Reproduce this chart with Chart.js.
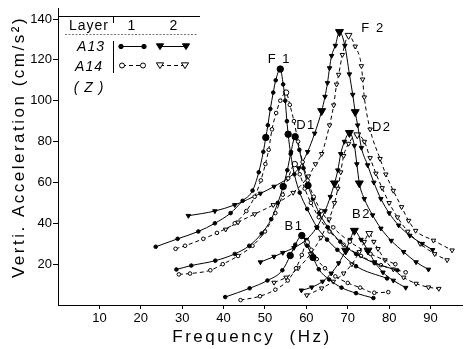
<!DOCTYPE html>
<html>
<head>
<meta charset="utf-8">
<script src="https://cdn.jsdelivr.net/npm/chart.js@4/dist/chart.umd.min.js"></script>
<style>
  html, body { margin: 0; padding: 0; background: #fff; }
  #wrap { width: 467px; height: 349px; }
</style>
</head>
<body>
<div id="wrap"><canvas id="chart"></canvas></div>
<script>
// tick values
const xTicks = [10, 20, 30, 40, 50, 60, 70, 80, 90];
const yTicks = [20, 40, 60, 80, 100, 120, 140];

// Layer 1 (circles): A13 solid, A14 dashed  -- [frequency Hz, acceleration cm/s2]
const f1A13 = [[23.6,28.5],[28.9,32.4],[33.9,36],[37.9,40],[41.7,45],[44.6,51],[47,56],[48.5,65],[49.6,75],[50.2,82],[50.7,88],[51.3,96],[52,104],[52.6,110],[53.7,115.5],[54.4,108],[54.9,100],[55.3,90],[55.6,83.6],[56.2,74],[57.1,64],[58.4,55],[60.2,47],[62.6,38],[65,32],[67.5,27],[72,19],[79.5,13]];
const f1A14 = [[28.4,27.5],[30.7,29],[35.1,32.4],[38.4,35.3],[42.7,40],[45.5,46],[47.5,53],[49,61],[50.1,69],[50.9,76],[51.7,86],[52.7,94],[53.7,100],[55.1,104],[56,98],[57,90],[58,80],[59.1,70],[60.3,61],[61.8,53],[63.6,46],[66.5,38],[70.5,31],[75.5,25],[81.5,20]];
const d1A13 = [[28.6,17.4],[32.2,19.3],[38,21.7],[42.7,25],[46.2,29],[49.2,35],[51.5,42],[53.1,50],[54.4,58],[55.4,66],[56.3,75],[57.3,82.4],[58.3,76],[59.3,67],[60.4,58.5],[61.6,52],[63.1,45],[65.2,38],[68.2,31],[72,25],[76.5,20.5],[82,17]];
const d1A14 = [[29.2,15],[31.9,15.4],[36.8,17],[39.8,20],[43.5,24],[47,29],[50,36],[52.5,45],[54.3,54],[55.6,62],[57.2,69],[58.4,64],[59.6,57],[61.1,50],[63,43],[65.6,36],[69,29.5],[73.2,24],[78,19.5],[84,16]];
const b1A13 = [[40.4,3.9],[46.3,8.2],[50.6,12],[54.2,17],[56.1,24.2],[57.3,29.5],[58.9,34],[60.2,29],[61.6,23.3],[63,17.5],[65.5,12.5],[68.5,8.5],[72,5.8],[76.2,3.4]];
const b1A14 = [[44.1,2.4],[48.8,4.3],[52.5,7.5],[55.5,12],[57.5,18],[58.9,24.5],[60.1,30.6],[61.2,27],[62.5,22.5],[64.5,18],[67,14],[70,10.8],[73,8.5],[76.4,6],[79.8,6.3]];

// Layer 2 (triangles)
const f2A13 = [[31.5,43.7],[37.9,46],[42.7,49],[48.9,54.6],[52.2,58],[55.5,62],[58.2,67],[60.3,75],[62,84],[63.7,95],[64.5,102],[65.1,108.7],[65.6,116],[66.1,122],[67,127],[68,133.7],[69.3,127],[70.4,113],[71.2,103],[71.8,94.5],[72.4,88],[73.3,77],[74.8,68.5],[76.3,60],[78,52],[80,45],[82.3,39],[85,34],[88,30],[90.5,27]];
const f2A14 = [[40.5,37],[43.5,40.5],[47.5,44.5],[52,49],[56.8,55],[60.5,63],[62.2,69],[63.7,74],[65.6,88],[66.6,97.8],[67.3,108],[67.8,112.8],[68.7,122.5],[70.2,132],[71.8,126.6],[73.3,117],[73.6,110.5],[74,101.7],[75.4,86],[77.8,71.6],[79.2,64],[81,56],[83,48],[84.7,41.3],[86.4,36.4],[90.7,31.6],[95.2,26.8]];
const d2A13 = [[48.9,21],[52.2,23.7],[54.3,25.6],[57,28],[60,32],[62.5,38],[64.5,46],[65.8,53],[66.8,59.6],[67.6,66],[68.3,74],[69.2,80],[70.4,84.3],[71.6,78],[72.2,69],[72.8,59.6],[74,52],[76,44],[78,37.5],[80.5,31.5],[83.5,26],[86.5,21],[89.5,17.4]];
const d2A14 = [[52.2,11],[55.1,13.5],[58,18],[61,25],[63.5,33],[65.5,42],[66.8,50],[67.6,57],[68.3,65],[69,73],[70.2,79],[72.3,83.3],[74,80],[75.4,72],[76.8,64.4],[78.3,57.3],[80,50],[82,43],[84.5,36],[87.5,30],[91,25],[94,22]];
const b2A13 = [[58.8,7.2],[61.3,8.7],[63.9,11.5],[66,15.5],[67.8,20.5],[69.5,26.7],[70.6,32],[71.6,36.4],[73.2,32],[74.9,26.7],[76.5,21],[78.5,16],[81,12],[84,8.5]];
const b2A14 = [[60.1,4.8],[63.7,8.2],[66.5,11.5],[69,15.5],[71,20],[72.8,26],[74,31],[75.2,35],[76.3,31],[77.3,27.5],[79,22],[81,17.5],[83.5,13.5],[86.5,10.5],[89.5,8.7],[92,8]];

// mode labels and where they sit (data coords)
const modeNames = ['F 1', 'F 2', 'D1', 'D2', 'B1', 'B2'];
const modeAt = [[53.5,120], [76.1,135.3], [59.9,88], [78.2,87], [57,38.7], [73.3,44.5]];

const FONT = '"Liberation Sans", Arial, sans-serif';

function makeSet(points, layer, sensor) {
    const solid = sensor === 'A13';
    const tri = layer === 2;
    const ys = points.map(p => p[1]);
    const peak = ys.indexOf(Math.max(...ys));
    const half = ys[peak] / Math.SQRT2;
    // half-power points get a bigger marker on the solid curves
    const nearest = (from, to) => {
        let best = from;
        for (let i = from; i < to; i++) {
            if (Math.abs(ys[i] - half) < Math.abs(ys[best] - half)) best = i;
        }
        return best;
    };
    const big = new Set([peak]);
    if (solid) {
        big.add(nearest(0, peak));
        big.add(nearest(peak + 1, ys.length));
    }
    const small = tri ? 2.6 : 1.8;
    const large = tri ? 4.6 : 3.2;
    return {
        data: points.map(p => ({ x: p[0], y: p[1] })),
        borderColor: '#000',
        borderWidth: 1,
        borderDash: solid ? [] : [4, 3],
        pointStyle: tri ? 'triangle' : 'circle',
        pointRotation: tri ? 180 : 0,
        pointBackgroundColor: solid ? '#000' : '#fff',
        pointBorderColor: '#000',
        pointBorderWidth: 1,
        pointRadius: ys.map((_, i) => big.has(i) ? (solid ? large : large * 0.85) : small),
        cubicInterpolationMode: 'monotone',
        fill: false
    };
}

function dot(ctx, x, y, r, filled) {
    ctx.beginPath();
    ctx.arc(x, y, r, 0, Math.PI * 2);
    ctx.fillStyle = filled ? '#000' : '#fff';
    ctx.fill();
    ctx.stroke();
}

function tri(ctx, x, y, r, filled) {
    ctx.beginPath();
    ctx.moveTo(x - r, y - r * 0.6);
    ctx.lineTo(x + r, y - r * 0.6);
    ctx.lineTo(x, y + r);
    ctx.closePath();
    ctx.fillStyle = filled ? '#000' : '#fff';
    ctx.fill();
    ctx.stroke();
}

const decorations = {
    id: 'decorations',
    afterDraw(chart) {
        const ctx = chart.ctx;
        const xs = chart.scales.x, ys = chart.scales.y;
        ctx.save();
        ctx.fillStyle = '#000';
        ctx.strokeStyle = '#000';
        ctx.lineWidth = 1;
        ctx.textAlign = 'center';
        ctx.textBaseline = 'middle';

        // axis titles
        ctx.font = '17px ' + FONT;
        ctx.letterSpacing = '2.5px';
        ctx.fillText('Frequency  (Hz)', 252, 337);
        ctx.save();
        ctx.translate(19, 147);
        ctx.rotate(-Math.PI / 2);
        ctx.fillText('Verti. Acceleration (cm/s²)', 0, 0);
        ctx.restore();

        // mode labels
        ctx.font = '13px ' + FONT;
        ctx.letterSpacing = '1.5px';
        modeNames.forEach((name, i) => {
            ctx.fillText(name, xs.getPixelForValue(modeAt[i][0]), ys.getPixelForValue(modeAt[i][1]));
        });

        // legend table
        ctx.letterSpacing = '1px';
        ctx.beginPath();
        ctx.moveTo(58, 16.5); ctx.lineTo(200, 16.5);
        ctx.moveTo(113.5, 16); ctx.lineTo(113.5, 23);
        ctx.moveTo(113.5, 41); ctx.lineTo(113.5, 73);
        ctx.stroke();
        ctx.save();
        ctx.strokeStyle = '#777';
        ctx.setLineDash([2, 1.5]);
        ctx.beginPath();
        ctx.moveTo(65, 34.5); ctx.lineTo(198, 34.5);
        ctx.stroke();
        ctx.restore();

        ctx.font = '14px ' + FONT;
        ctx.fillText('Layer', 89, 26);
        ctx.fillText('1', 132, 26);
        ctx.fillText('2', 174, 26);
        ctx.font = 'italic 14px ' + FONT;
        ctx.fillText('A13', 91, 47);
        ctx.fillText('A14', 89, 67);
        ctx.fillText('( Z )', 89, 88);

        // legend symbols
        ctx.beginPath();
        ctx.moveTo(121, 46.5); ctx.lineTo(144, 46.5);
        ctx.moveTo(160, 46.5); ctx.lineTo(186, 46.5);
        ctx.stroke();
        dot(ctx, 121, 46.5, 2.2, true);
        dot(ctx, 144, 46.5, 2.2, true);
        tri(ctx, 160, 46, 3.6, true);
        tri(ctx, 186, 46, 3.6, true);

        ctx.save();
        ctx.setLineDash([4, 3]);
        ctx.beginPath();
        ctx.moveTo(122, 65.5); ctx.lineTo(143, 65.5);
        ctx.moveTo(160, 65.5); ctx.lineTo(185, 65.5);
        ctx.stroke();
        ctx.restore();
        dot(ctx, 122, 65.5, 2.5, false);
        dot(ctx, 143, 65.5, 2.5, false);
        tri(ctx, 160, 65, 3.6, false);
        tri(ctx, 185, 65, 3.6, false);

        ctx.restore();
    }
};

new Chart(document.getElementById('chart'), {
    type: 'line',
    data: {
        datasets: [
            makeSet(f1A13, 1, 'A13'), makeSet(f1A14, 1, 'A14'),
            makeSet(d1A13, 1, 'A13'), makeSet(d1A14, 1, 'A14'),
            makeSet(b1A13, 1, 'A13'), makeSet(b1A14, 1, 'A14'),
            makeSet(f2A13, 2, 'A13'), makeSet(f2A14, 2, 'A14'),
            makeSet(d2A13, 2, 'A13'), makeSet(d2A14, 2, 'A14'),
            makeSet(b2A13, 2, 'A13'), makeSet(b2A14, 2, 'A14')
        ]
    },
    options: {
        responsive: true,
        maintainAspectRatio: false,
        animation: false,
        layout: { padding: { top: 5, right: 0, left: 0, bottom: 0 } },
        plugins: { legend: { display: false }, tooltip: { enabled: false } },
        scales: {
            x: {
                type: 'linear',
                min: 0,
                max: 97.6,
                afterBuildTicks: s => { s.ticks = xTicks.map(v => ({ value: v })); },
                afterFit: s => { s.height = 44; },
                ticks: { color: '#000', font: { family: FONT, size: 13 }, padding: 2, maxRotation: 0, autoSkip: false },
                grid: { drawOnChartArea: false, tickLength: 4, color: '#000' },
                border: { color: '#000', width: 1 }
            },
            y: {
                min: 0,
                max: 145,
                afterBuildTicks: s => { s.ticks = yTicks.map(v => ({ value: v })); },
                afterFit: s => { s.width = 58; },
                ticks: { color: '#000', font: { family: FONT, size: 13 }, padding: 1 },
                grid: { drawOnChartArea: false, tickLength: 5, color: '#000' },
                border: { color: '#000', width: 1 }
            }
        }
    },
    plugins: [decorations]
});
</script>
</body>
</html>
